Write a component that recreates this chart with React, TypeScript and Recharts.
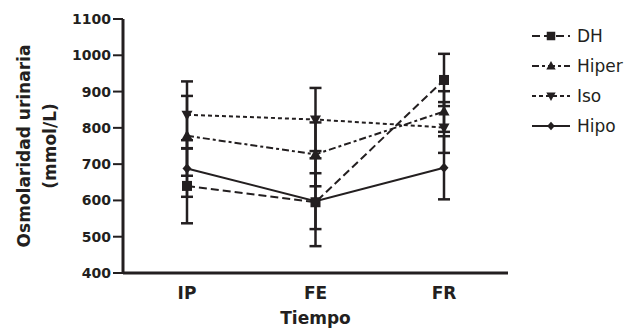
import React from "react";
import { LineChart, Line, XAxis, YAxis, ErrorBar, Legend, Label } from "recharts";

const INK = "#231f20";
const FONT = "'DejaVu Sans', sans-serif";

const categories = ["IP", "FE", "FR"];
const dhMean = [640, 595, 932];
const dhSd = [103, 121, 72];
const hiperMean = [778, 727, 845];
const hiperSd = [110, 88, 56];
const isoMean = [836, 823, 801];
const isoSd = [92, 87, 70];
const hipoMean = [688, 598, 690];
const hipoSd = [78, 77, 87];
const yTicks = [400, 500, 600, 700, 800, 900, 1000, 1100];

const data = categories.map((c, i) => ({
  name: c,
  dh: dhMean[i],
  dhErr: dhSd[i],
  hiper: hiperMean[i],
  hiperErr: hiperSd[i],
  iso: isoMean[i],
  isoErr: isoSd[i],
  hipo: hipoMean[i],
  hipoErr: hipoSd[i],
}));

type Shape = "square" | "up" | "down" | "diamond";

const series: { key: string; name: string; shape: Shape; dash?: string }[] = [
  { key: "dh", name: "DH", shape: "square", dash: "8 4" },
  { key: "hiper", name: "Hiper", shape: "up", dash: "7 3 3 3" },
  { key: "iso", name: "Iso", shape: "down", dash: "4 3" },
  { key: "hipo", name: "Hipo", shape: "diamond" },
];

function Marker({ cx, cy, shape, s = 1 }: { cx: number; cy: number; shape: Shape; s?: number }) {
  if (shape === "square") {
    const h = 5 * s;
    return <rect x={cx - h} y={cy - h} width={2 * h} height={2 * h} fill={INK} />;
  }
  if (shape === "up") {
    const w = 5.5 * s;
    return <polygon points={`${cx},${cy - 6 * s} ${cx + w},${cy + 4 * s} ${cx - w},${cy + 4 * s}`} fill={INK} />;
  }
  if (shape === "down") {
    const w = 5.5 * s;
    return <polygon points={`${cx},${cy + 6 * s} ${cx + w},${cy - 4 * s} ${cx - w},${cy - 4 * s}`} fill={INK} />;
  }
  return (
    <polygon
      points={`${cx},${cy - 5 * s} ${cx + 4.5 * s},${cy} ${cx},${cy + 5 * s} ${cx - 4.5 * s},${cy}`}
      fill={INK}
    />
  );
}

function LegendBox() {
  return (
    <svg width={110} height={130}>
      {series.map((s, i) => {
        const y = 11 + i * 30;
        return (
          <g key={s.key}>
            <line x1={12} x2={50} y1={y} y2={y} stroke={INK} strokeWidth={2} strokeDasharray={s.dash} />
            <Marker cx={31} cy={y} shape={s.shape} s={0.85} />
            <text x={57} y={y} dy="0.36em" fontFamily={FONT} fontSize={17} fill={INK}>
              {s.name}
            </text>
          </g>
        );
      })}
    </svg>
  );
}

const XTick = ({ x, y, payload }: any) => (
  <text x={x} y={y} dy="0.71em" textAnchor="middle" fontFamily={FONT} fontWeight="bold" fontSize={17} fill={INK}>
    {payload.value}
  </text>
);

const YTick = ({ x, y, payload }: any) => (
  <g>
    <line x1={x + 2} x2={x + 12} y1={y} y2={y} stroke={INK} strokeWidth={2} />
    <text x={x} y={y} dy="0.36em" textAnchor="end" fontFamily={FONT} fontWeight="bold" fontSize={14} fill={INK}>
      {payload.value}
    </text>
  </g>
);

export default function App() {
  return (
    <div style={{ position: "absolute", left: 0, top: 0, background: "#fff" }}>
      <LineChart width={639} height={328} data={data} margin={{ top: 19, right: 131, bottom: 0, left: 0 }}>
        <XAxis
          dataKey="name"
          height={55}
          padding={{ left: 64, right: 64 }}
          tickLine={false}
          tickMargin={8}
          axisLine={{ stroke: INK, strokeWidth: 3 }}
          tick={<XTick />}
        >
          <Label
            content={({ viewBox }: any) => (
              <text
                x={viewBox.x + viewBox.width / 2}
                y={318}
                dy="0.36em"
                textAnchor="middle"
                fontFamily={FONT}
                fontWeight="bold"
                fontSize={17}
                fill={INK}
              >
                Tiempo
              </text>
            )}
          />
        </XAxis>
        <YAxis
          width={123}
          domain={[400, 1100]}
          ticks={yTicks}
          interval={0}
          tickSize={10}
          tickMargin={2}
          axisLine={{ stroke: INK, strokeWidth: 3 }}
          tickLine={false}
          tick={<YTick />}
        >
          <Label
            content={() => (
              <g fontFamily={FONT} fontWeight="bold" fontSize={17} fill={INK}>
                <text x={24} y={146} dy="0.36em" textAnchor="middle" transform="rotate(-90 24 146)">
                  Osmolaridad urinaria
                </text>
                <text x={50} y={146} dy="0.36em" textAnchor="middle" transform="rotate(-90 50 146)">
                  (mmol/L)
                </text>
              </g>
            )}
          />
        </YAxis>
        <Legend
          layout="vertical"
          align="center"
          verticalAlign="middle"
          wrapperStyle={{ left: 520, top: 25, width: 110, height: 130 }}
          content={() => <LegendBox />}
        />
        {series.map((s) => (
          <Line
            key={s.key}
            dataKey={s.key}
            name={s.name}
            stroke={INK}
            strokeWidth={2}
            strokeDasharray={s.dash}
            isAnimationActive={false}
            dot={(p: any) => <Marker key={`${s.key}-${p.index}`} cx={p.cx} cy={p.cy} shape={s.shape} />}
            activeDot={false}
          >
            <ErrorBar dataKey={`${s.key}Err`} direction="y" width={6} stroke={INK} strokeWidth={2.5} isAnimationActive={false} />
          </Line>
        ))}
      </LineChart>
    </div>
  );
}
